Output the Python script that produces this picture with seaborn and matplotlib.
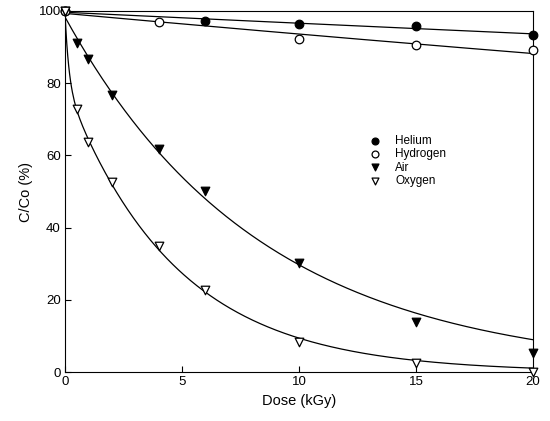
import numpy as np
import pandas as pd
import matplotlib
matplotlib.use("Agg")
import matplotlib.pyplot as plt
import seaborn as sns

# values (dose in kGy, C/Co in %)
dose_helium = [0, 6, 10, 15, 20]
helium = [100, 97.2, 96.5, 95.7, 93.4]
dose_hydrogen = [0, 4, 10, 15, 20]
hydrogen = [100, 97.0, 92.3, 90.5, 89.2]
dose_gas = [0, 0.5, 1, 2, 4, 6, 10, 15, 20]
air = [100, 91.0, 86.7, 76.7, 61.8, 50.1, 30.3, 13.9, 5.4]
oxygen = [100, 72.8, 63.6, 52.6, 34.8, 22.7, 8.4, 2.4, 0.1]

x_ticks = [0, 5, 10, 15, 20]
y_ticks = [0, 20, 40, 60, 80, 100]


def fit_exp(x, y, n_terms=1):
    # least squares fit of a sum of exponential decays, grid over rates
    x = np.asarray(x, float)
    y = np.asarray(y, float)
    rates = np.logspace(-3.5, 1.2, 300)
    best = None
    if n_terms == 1:
        combos = [(k,) for k in rates]
    else:
        combos = [(k1, k2) for i, k1 in enumerate(rates) for k2 in rates[i + 1:]]
    for ks in combos:
        M = np.column_stack([np.exp(-k * x) for k in ks])
        amps, *_ = np.linalg.lstsq(M, y, rcond=None)
        err = np.sum((M @ amps - y) ** 2)
        if best is None or err < best[0]:
            best = (err, ks, amps)
    _, ks, amps = best
    return lambda t: sum(a * np.exp(-k * t) for a, k in zip(amps, ks))


sns.set_style("ticks")
plt.rcParams['font.family'] = ['Liberation Sans', 'DejaVu Sans']
plt.rcParams['text.color'] = 'black'
plt.rcParams['axes.labelcolor'] = 'black'
plt.rcParams['xtick.color'] = 'black'
plt.rcParams['ytick.color'] = 'black'
plt.rcParams['axes.edgecolor'] = 'black'

fig = plt.figure(figsize=(5.5, 4.21), dpi=100)
ax = fig.add_axes([0.118, 0.116, 0.851, 0.858])

series = [
    ("Helium", dose_helium, helium, "o", "black", 1),
    ("Hydrogen", dose_hydrogen, hydrogen, "o", "white", 1),
    ("Air", dose_gas, air, "v", "black", 1),
    ("Oxygen", dose_gas, oxygen, "v", "white", 2),
]

xs = np.linspace(0, 20, 500)
for name, x, y, marker, face, nterm in series:
    f = fit_exp(x, y, nterm)
    sns.lineplot(x=xs, y=f(xs), ax=ax, color="black", lw=0.9)

for name, x, y, marker, face, nterm in series:
    df = pd.DataFrame({"dose": x, "c": y})
    sns.scatterplot(data=df, x="dose", y="c", ax=ax, marker=marker, s=38,
                    facecolor=face, edgecolor="black", linewidth=0.9,
                    label=name, zorder=3, clip_on=False)

ax.set_xlim(0, 20)
ax.set_ylim(0, 100)
ax.set_xticks(x_ticks)
ax.set_yticks(y_ticks)
ax.tick_params(direction="in", length=4, width=0.8, labelsize=9.5, pad=3)
for sp in ax.spines.values():
    sp.set_linewidth(0.8)
ax.set_xlabel("Dose (kGy)", fontsize=10.5)
ax.set_ylabel("C/Co (%)", fontsize=10.5)

leg = ax.legend(loc="center left", bbox_to_anchor=(0.615, 0.585), frameon=False,
                fontsize=8.5, handletextpad=0.7, labelspacing=0.12,
                markerscale=0.8)

fig.savefig("out.png", dpi=100)
